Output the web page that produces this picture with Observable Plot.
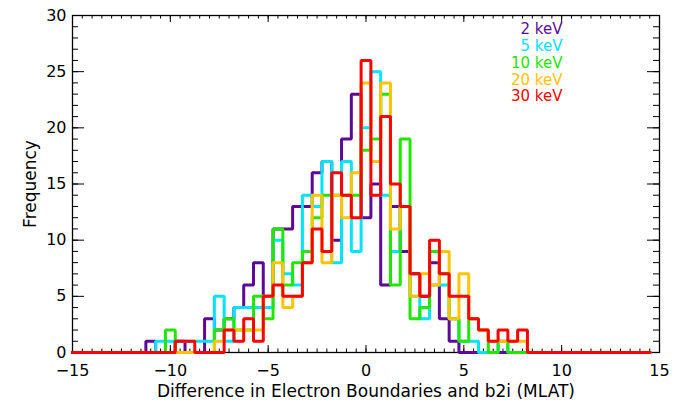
<!DOCTYPE html>
<html><head><meta charset="utf-8">
<script src="https://cdn.jsdelivr.net/npm/d3@7"></script>
<script src="https://cdn.jsdelivr.net/npm/@observablehq/plot@0.6"></script>
<style>
body{margin:0;background:#fff;}
#chart{width:677px;height:403px;overflow:hidden;}
</style></head><body><div id="chart"></div>
<script>
// Bin centres (MLAT difference), bin width 0.5
const binCenters = [-15,-14.5,-14,-13.5,-13,-12.5,-12,-11.5,-11,-10.5,-10,-9.5,-9,-8.5,-8,-7.5,-7,-6.5,-6,-5.5,-5,-4.5,-4,-3.5,-3,-2.5,-2,-1.5,-1,-0.5,0,0.5,1,1.5,2,2.5,3,3.5,4,4.5,5,5.5,6,6.5,7,7.5,8,8.5,9,9.5,10,10.5,11,11.5,12,12.5,13,13.5,14,14.5];
// Frequencies per bin, one array per energy channel
const kev2  = [0,0,0,0,0,0,0,0,1,0,0,1,0,0,3,2,3,4,6,8,5,11,11,13,13,16,17,10,19,23,12,15,6,13,9,7,5,8,3,1,0,0,0,0,0,0,0,0,0,0,0,0,0,0,0,0,0,0,0,0];
const kev5  = [0,0,0,0,0,0,0,0,0,1,1,1,1,1,1,5,1,4,4,4,4,10,7,6,14,13,17,8,17,9,20,25,14,9,13,5,3,6,6,3,1,1,0,0,1,0,0,0,0,0,0,0,0,0,0,0,0,0,0,0];
const kev10 = [0,0,0,0,0,0,0,0,0,0,2,0,0,0,0,2,3,2,2,5,3,11,6,8,9,12,14,14,14,14,18,19,23,6,19,3,4,9,7,3,1,3,2,0,1,0,0,0,0,0,0,0,0,0,0,0,0,0,0,0];
const kev20 = [0,0,0,0,0,0,0,0,0,0,0,0,0,0,0,1,2,2,2,2,5,8,4,5,8,14,8,14,12,16,24,17,24,11,13,5,7,6,9,3,7,3,2,1,1,1,1,0,0,0,0,0,0,0,0,0,0,0,0,0];
const kev30 = [0,0,0,0,0,0,0,0,0,0,0,1,1,0,0,0,2,1,3,1,5,6,5,5,8,11,9,16,14,12,26,14,21,15,13,7,5,10,7,5,5,3,2,1,2,1,2,0,0,0,0,0,0,0,0,0,0,0,0,0];

const seriesNames  = ["2 keV","5 keV","10 keV","20 keV","30 keV"];
const seriesColors = ["#5c0a96","#00e4ff","#22e600","#ffc400","#ff0000"];
const xTicks = [-15,-10,-5,0,5,10,15];
const yTicks = [0,5,10,15,20,25,30];
const xTitle = "Difference in Electron Boundaries and b2i (MLAT)";
const yTitle = "Frequency";

const W = 677, H = 403, mL = 72, mR = 18, mT = 15, mB = 51;
const pw = W - mL - mR, ph = H - mT - mB;
const series = [kev2, kev5, kev10, kev20, kev30];
const rows = series.map((vals, s) => binCenters.map((x, i) => ({x, y: vals[i], s: seriesNames[s]})));
const xMinor = d3.range(-15, 15.001, 0.5);
const yMinor = d3.range(0, 30.001, 1);
const font = "'DejaVu Sans', sans-serif";
const fmt = d => (d < 0 ? "\u2212" : "") + Math.abs(d);

const xLenMaj = 7, xLenMin = 3.5, yLenMaj = 12, yLenMin = 6;

const marks = [
  // inward ticks, bottom and top
  Plot.tickX(xMinor, {x: d => d, insetTop: ph - xLenMin, stroke: "#000", strokeWidth: 1}),
  Plot.tickX(xTicks, {x: d => d, insetTop: ph - xLenMaj, stroke: "#000", strokeWidth: 1}),
  Plot.tickX(xMinor, {x: d => d, insetBottom: ph - xLenMin, stroke: "#000", strokeWidth: 1}),
  Plot.tickX(xTicks, {x: d => d, insetBottom: ph - xLenMaj, stroke: "#000", strokeWidth: 1}),
  // inward ticks, left and right
  Plot.tickY(yMinor, {y: d => d, insetRight: pw - yLenMin, stroke: "#000", strokeWidth: 1}),
  Plot.tickY(yTicks, {y: d => d, insetRight: pw - yLenMaj, stroke: "#000", strokeWidth: 1}),
  Plot.tickY(yMinor, {y: d => d, insetLeft: pw - yLenMin, stroke: "#000", strokeWidth: 1}),
  Plot.tickY(yTicks, {y: d => d, insetLeft: pw - yLenMaj, stroke: "#000", strokeWidth: 1}),
  Plot.frame({stroke: "#000", strokeWidth: 1.3}),
  Plot.axisX(xTicks, {anchor: "bottom", tickSize: 0, tickPadding: 12, tickFormat: fmt, label: null, fontSize: 16}),
  Plot.axisY(yTicks, {anchor: "left", tickSize: 0, tickPadding: 6, tickFormat: fmt, label: null, fontSize: 16}),
  Plot.text([xTitle], {frameAnchor: "bottom", dy: 39, lineAnchor: "middle", textAnchor: "middle", text: d => d, fontSize: 17, fill: "#000"}),
  Plot.text([yTitle], {frameAnchor: "left", dx: -42, rotate: -90, lineAnchor: "middle", textAnchor: "middle", text: d => d, fontSize: 17, fill: "#000"})
];
rows.forEach((r, s) => {
  marks.push(Plot.line(r, {x: "x", y: "y", curve: "step", stroke: seriesColors[s], strokeWidth: 3, strokeLinejoin: "miter", strokeLinecap: "square"}));
});
const legendTop = 14, legendStep = 16.75;
seriesNames.forEach((name, i) => {
  marks.push(Plot.text([name], {
    frameAnchor: "top-right", dx: -97, dy: legendTop + i * legendStep,
    text: d => d, fill: seriesColors[i], textAnchor: "end", lineAnchor: "middle", fontSize: 15
  }));
});

const chart = Plot.plot({
  width: W, height: H,
  marginLeft: mL, marginRight: mR, marginTop: mT, marginBottom: mB,
  x: {domain: [-15, 15], label: null},
  y: {domain: [0, 30], label: null},
  style: {fontFamily: font, fontSize: "15px", color: "#000", background: "#fff"},
  marks
});
document.getElementById("chart").appendChild(chart);
</script>
</body></html>
